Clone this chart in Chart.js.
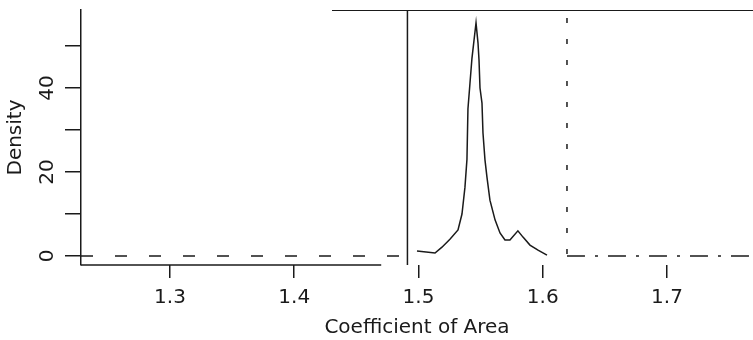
<!DOCTYPE html>
<html>
<head>
<meta charset="utf-8">
<script src="https://cdn.jsdelivr.net/npm/chart.js@4.4.1/dist/chart.umd.min.js"></script>
<style>
  html, body { margin: 0; padding: 0; background: #fff; }
</style>
</head>
<body>
<canvas id="density-chart" width="753" height="340"></canvas>
<script>
// --- DATA ---
const X_TICKS = [1.3, 1.4, 1.5, 1.6, 1.7];
const Y_TICKS = [0, 10, 20, 30, 40, 50];
const Y_LABELED = [0, 20, 40];
const X_RANGE = [1.2284, 1.7692];
const Y_RANGE = [-2.14, 58.57];

// density curve
const densityX = [1.4988, 1.5133, 1.5189, 1.5253, 1.5318, 1.5350, 1.5374, 1.5390, 1.5398, 1.5414,
                  1.5430, 1.5447, 1.5463, 1.5479, 1.5487, 1.5495, 1.5511, 1.5519, 1.5535, 1.5551,
                  1.5575, 1.5616, 1.5656, 1.5696, 1.5736, 1.5800, 1.5841, 1.5897, 1.5962, 1.6034];
const densityY = [1.2, 0.7, 2.1, 4.0, 6.2, 10.0, 16.4, 23.0, 35.0, 41.0,
                  47.0, 51.4, 55.5, 50.7, 46.7, 40.0, 36.4, 29.3, 22.9, 18.8,
                  13.3, 8.6, 5.5, 3.8, 3.8, 6.0, 4.5, 2.6, 1.4, 0.2];

// flat tails either side of the peak
const leftTailX = [1.2284, 1.4911];
const rightTailX = [1.6195, 1.7692];
const tailY = [0, 0];

// reference lines
const solidCutX = 1.4911;
const dottedCutX = 1.6195;
const dottedCutTop = 58.57;
const dottedCutBottom = 0.5;
const topLineX = [1.4304, 1.7692];
const AXIS_END = 1.47;

const FONT = { family: "'DejaVu Sans', sans-serif", size: 20 };
const INK = '#1a1a1a';

const pts = (xs, ys) => xs.map((x, i) => ({ x: x, y: ys[i] }));

const line = (data, extra) => Object.assign({
    data: data,
    borderColor: INK,
    borderWidth: 1.5,
    pointRadius: 0,
    tension: 0,
    fill: false,
}, extra || {});

// draws the short x axis line and the rotated y tick labels
const axisExtras = {
    id: 'axisExtras',
    afterDraw(chart) {
        const ctx = chart.ctx;
        const xs = chart.scales.x, ys = chart.scales.y;
        ctx.save();
        ctx.strokeStyle = INK;
        ctx.lineWidth = 1.5;
        ctx.beginPath();
        ctx.moveTo(chart.chartArea.left, chart.chartArea.bottom);
        ctx.lineTo(xs.getPixelForValue(AXIS_END), chart.chartArea.bottom);
        ctx.stroke();

        ctx.fillStyle = INK;
        ctx.font = `${FONT.size}px ${FONT.family}`;
        ctx.textAlign = 'center';
        ctx.textBaseline = 'middle';
        Y_LABELED.forEach(v => {
            ctx.save();
            ctx.translate(48, ys.getPixelForValue(v));
            ctx.rotate(-Math.PI / 2);
            ctx.fillText(String(v), 0, 0);
            ctx.restore();
        });
        ctx.restore();
    }
};

new Chart(document.getElementById('density-chart'), {
    type: 'line',
    data: {
        datasets: [
            line(pts(densityX, densityY)),
            line(pts(leftTailX, tailY), { borderDash: [12, 22] }),
            line(pts(rightTailX, tailY), { borderDash: [18, 10, 3, 10] }),
            line(pts([solidCutX, solidCutX], [Y_RANGE[0], Y_RANGE[1]])),
            line(pts([dottedCutX, dottedCutX], [dottedCutBottom, dottedCutTop]), { borderDash: [5, 16] }),
            line(pts(topLineX, [Y_RANGE[1], Y_RANGE[1]]), { borderWidth: 2 }),
        ]
    },
    options: {
        responsive: false,
        animation: false,
        devicePixelRatio: 1,
        layout: { padding: { top: 10, right: 0, bottom: 0, left: 0 } },
        plugins: { legend: { display: false }, tooltip: { enabled: false } },
        scales: {
            x: {
                type: 'linear',
                min: X_RANGE[0],
                max: X_RANGE[1],
                afterBuildTicks: s => { s.ticks = X_TICKS.map(v => ({ value: v })); },
                afterFit: s => { s.height = 75; },
                border: { display: false },
                grid: { drawOnChartArea: false, drawTicks: true, tickLength: 13, color: INK, lineWidth: 1.5 },
                ticks: {
                    color: INK, font: FONT, padding: 8, maxRotation: 0,
                    callback: v => Number(v).toFixed(1)
                },
                title: {
                    display: true, text: 'Coefficient of Area', color: INK, font: FONT,
                    padding: { top: 0, bottom: 0 }
                }
            },
            y: {
                type: 'linear',
                min: Y_RANGE[0],
                max: Y_RANGE[1],
                afterBuildTicks: s => { s.ticks = Y_TICKS.map(v => ({ value: v })); },
                afterFit: s => { s.width = 81; },
                border: { display: true, color: INK, width: 1.5 },
                grid: { drawOnChartArea: false, drawTicks: true, tickLength: 16, color: INK, lineWidth: 1.5 },
                ticks: { display: false },
                title: {
                    display: true, text: 'Density', color: INK, font: FONT,
                    padding: { top: 4, bottom: 0 }
                }
            }
        }
    },
    plugins: [axisExtras]
});
</script>
</body>
</html>
